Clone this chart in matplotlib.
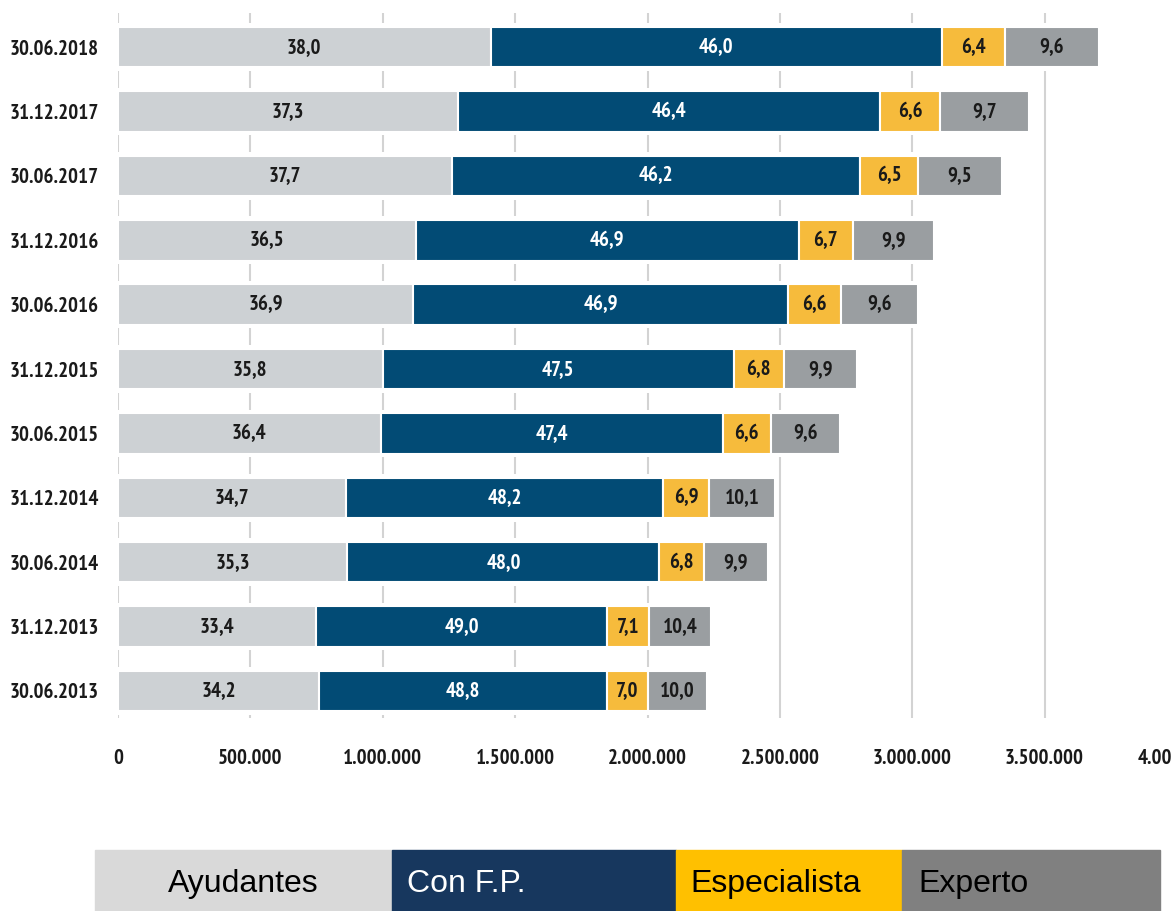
import matplotlib
matplotlib.use("Agg")
import matplotlib.pyplot as plt
from matplotlib.ticker import FuncFormatter
from matplotlib.patches import Rectangle
import numpy as np

dates = ["30.06.2013", "31.12.2013", "30.06.2014", "31.12.2014", "30.06.2015",
         "31.12.2015", "30.06.2016", "31.12.2016", "30.06.2017", "31.12.2017",
         "30.06.2018"]
totals = [2224000, 2243000, 2455000, 2485000, 2727000, 2791000, 3021000,
          3082000, 3342000, 3440000, 3705000]
ayudantes_pct = [34.2, 33.4, 35.3, 34.7, 36.4, 35.8, 36.9, 36.5, 37.7, 37.3, 38.0]
confp_pct = [48.8, 49.0, 48.0, 48.2, 47.4, 47.5, 46.9, 46.9, 46.2, 46.4, 46.0]
especialista_pct = [7.0, 7.1, 6.8, 6.9, 6.6, 6.8, 6.6, 6.7, 6.5, 6.6, 6.4]
experto_pct = [10.0, 10.4, 9.9, 10.1, 9.6, 9.9, 9.6, 9.9, 9.5, 9.7, 9.6]
categories = ["Ayudantes", "Con F.P.", "Especialista", "Experto"]
xticks = [0, 500000, 1000000, 1500000, 2000000, 2500000, 3000000, 3500000, 4000000]

bar_colors = ["#cdd1d4", "#024b75", "#f6bb3c", "#9a9ea1"]
label_colors = ["#1a1a1a", "white", "#1a1a1a", "#1a1a1a"]
legend_colors = ["#d9d9d9", "#17375e", "#ffc000", "#808080"]
legend_text_colors = ["black", "white", "black", "black"]

narrow = ["PT Sans Narrow", "Open Sans Condensed", "DejaVu Sans"]

fig = plt.figure(figsize=(11.71, 9.11), dpi=100)
W, H = 1171, 911
ax = fig.add_axes([118 / W, (H - 718) / H, (1177 - 118) / W, (718 - 13) / H])

y = np.arange(len(dates))
pcts = [ayudantes_pct, confp_pct, especialista_pct, experto_pct]
tot = np.array(totals, dtype=float)

# white mask to break gridlines near bars
ax.barh(y, tot, height=0.74, color="white", zorder=1.5, linewidth=0)

left = np.zeros(len(dates))
for k, p in enumerate(pcts):
    vals = tot * np.array(p) / 100.0
    ax.barh(y, vals, left=left, height=0.63, color=bar_colors[k],
            edgecolor="white", linewidth=1.5, zorder=2)
    for i in range(len(dates)):
        ax.text(left[i] + vals[i] / 2, y[i], f"{p[i]:.1f}".replace(".", ","),
                ha="center", va="center", color=label_colors[k],
                fontsize=15, fontweight="bold", family=narrow, zorder=3)
    left += vals

ax.set_xlim(0, 4000000)
ax.set_ylim(-0.42, 10.53)
ax.set_xticks(xticks)
ax.xaxis.set_major_formatter(FuncFormatter(lambda v, _: f"{int(v):,}".replace(",", ".")))
ax.set_yticks(y)
ax.set_yticklabels(dates)
ax.grid(axis="x", color="#d3d3d3", linewidth=1.5, zorder=1)
ax.set_axisbelow(True)
for s in ax.spines.values():
    s.set_visible(False)
ax.tick_params(axis="x", length=0, pad=22, labelsize=15)
ax.tick_params(axis="y", length=0, pad=14, labelsize=15)
for lab in ax.get_xticklabels() + ax.get_yticklabels():
    lab.set_family(narrow)
    lab.set_fontweight("bold")
    lab.set_color("#1a1a1a")

# legend as colored blocks
edges = [95, 392, 676, 902, 1160]
text_x = [None, 407, 690, 918]
for k, c in enumerate(categories):
    x0, x1 = edges[k], edges[k + 1]
    fig.patches.append(Rectangle((x0 / W, (H - 911) / H), (x1 - x0) / W, 61 / H,
                                 transform=fig.transFigure, color=legend_colors[k],
                                 zorder=0))
    if text_x[k] is None:
        fig.text((x0 + x1) / 2 / W, (H - 884) / H, c, ha="center", va="center",
                 fontsize=23, family="Liberation Sans", color=legend_text_colors[k])
    else:
        fig.text(text_x[k] / W, (H - 884) / H, c, ha="left", va="center",
                 fontsize=23, family="Liberation Sans", color=legend_text_colors[k])

fig.savefig("out.png", dpi=100)
